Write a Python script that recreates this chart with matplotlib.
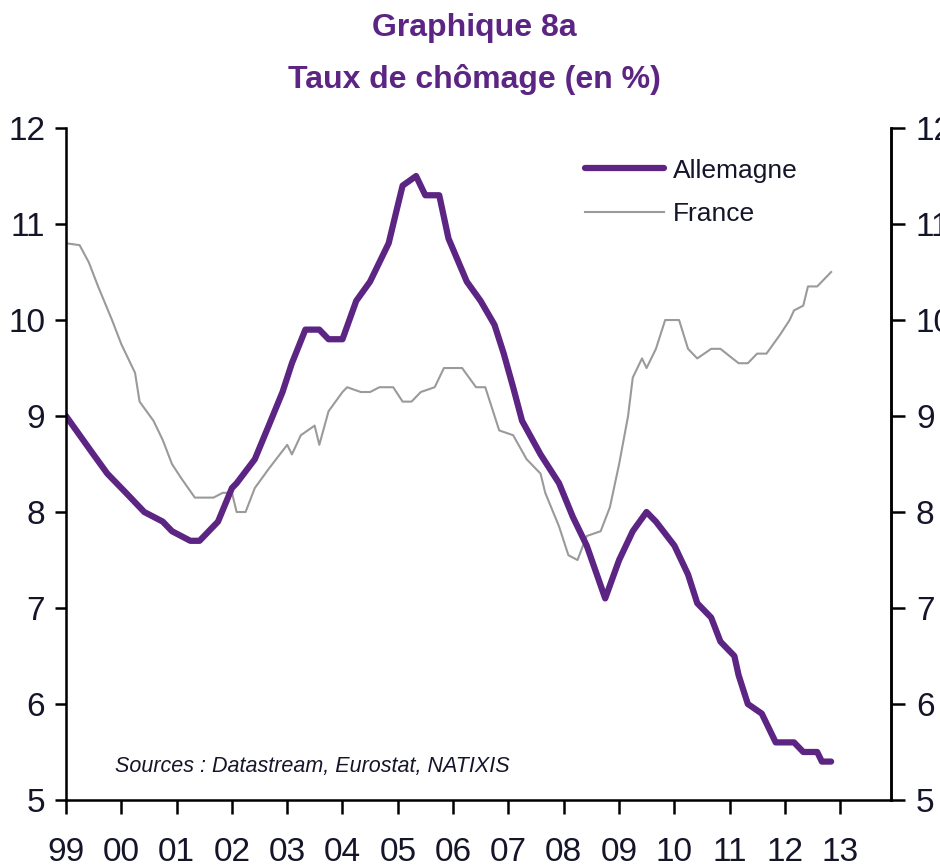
import matplotlib
matplotlib.use("Agg")
import matplotlib.pyplot as plt
import pandas as pd

# Allemagne (month, %)
de_months = ["1999-01", "1999-07", "1999-10", "2000-02", "2000-06", "2000-10", "2000-12",
             "2001-04", "2001-06", "2001-10", "2002-01", "2002-02", "2002-06", "2002-09",
             "2002-12", "2003-02", "2003-05", "2003-08", "2003-10", "2004-01", "2004-04",
             "2004-07", "2004-11", "2005-01", "2005-02", "2005-05", "2005-07", "2005-10",
             "2005-12", "2006-04", "2006-07", "2006-10", "2006-12", "2007-02", "2007-04",
             "2007-08", "2007-12", "2008-03", "2008-06", "2008-10", "2009-01", "2009-04",
             "2009-07", "2009-09", "2010-01", "2010-04", "2010-06", "2010-09", "2010-11",
             "2011-02", "2011-03", "2011-05", "2011-08", "2011-11", "2012-03", "2012-05",
             "2012-08", "2012-09", "2012-11"]
de_values = [9.0, 8.6, 8.4, 8.2, 8.0, 7.9, 7.8,
             7.7, 7.7, 7.9, 8.25, 8.3, 8.55, 8.9,
             9.25, 9.55, 9.9, 9.9, 9.8, 9.8, 10.2,
             10.4, 10.8, 11.2, 11.4, 11.5, 11.3, 11.3,
             10.85, 10.4, 10.2, 9.95, 9.65, 9.3, 8.95,
             8.6, 8.3, 7.95, 7.65, 7.1, 7.5, 7.8,
             8.0, 7.9, 7.65, 7.35, 7.05, 6.9, 6.65,
             6.5, 6.3, 6.0, 5.9, 5.6, 5.6, 5.5,
             5.5, 5.4, 5.4]

# France
fr_months = ["1999-01", "1999-04", "1999-06", "1999-08", "1999-11", "2000-01", "2000-04",
             "2000-05", "2000-08", "2000-10", "2000-12", "2001-02", "2001-05", "2001-09",
             "2001-11", "2002-01", "2002-02", "2002-04", "2002-06", "2002-09", "2003-01",
             "2003-02", "2003-04", "2003-07", "2003-08", "2003-10", "2004-01", "2004-02",
             "2004-05", "2004-07", "2004-09", "2004-12", "2005-02", "2005-04", "2005-06",
             "2005-09", "2005-11", "2006-03", "2006-06", "2006-08", "2006-11", "2007-02",
             "2007-05", "2007-08", "2007-09", "2007-12", "2008-02", "2008-04", "2008-06",
             "2008-09", "2008-11", "2009-01", "2009-03", "2009-04", "2009-06", "2009-07",
             "2009-08", "2009-09", "2009-11", "2010-02", "2010-04", "2010-06", "2010-09",
             "2010-11", "2011-03", "2011-05", "2011-07", "2011-09", "2011-12", "2012-02",
             "2012-03", "2012-05", "2012-06", "2012-08", "2012-11"]
fr_values = [10.8, 10.78, 10.6, 10.35, 10.0, 9.75, 9.45,
             9.15, 8.95, 8.75, 8.5, 8.35, 8.15, 8.15,
             8.2, 8.2, 8.0, 8.0, 8.25, 8.45, 8.7,
             8.6, 8.8, 8.9, 8.7, 9.05, 9.25, 9.3,
             9.25, 9.25, 9.3, 9.3, 9.15, 9.15, 9.25,
             9.3, 9.5, 9.5, 9.3, 9.3, 8.85, 8.8,
             8.55, 8.4, 8.2, 7.85, 7.55, 7.5, 7.75,
             7.8, 8.05, 8.5, 9.0, 9.4, 9.6, 9.5,
             9.6, 9.7, 10.0, 10.0, 9.7, 9.6, 9.7,
             9.7, 9.55, 9.55, 9.65, 9.65, 9.85, 10.0,
             10.1, 10.15, 10.35, 10.35, 10.5]

years = list(range(1999, 2014))
year_labels = [str(y)[2:] for y in years]
y_ticks = [5, 6, 7, 8, 9, 10, 11, 12]

purple = "#5c2483"
txt = "#15152a"
font = ["Liberation Sans", "DejaVu Sans"]

fig = plt.figure(figsize=(9.4, 8.67), dpi=100)
ax = fig.add_axes([0.0702, 0.0773, 0.8776, 0.775])

de_x = pd.to_datetime(de_months)
fr_x = pd.to_datetime(fr_months)
ax.plot(fr_x, fr_values, color="#9a9a9a", lw=1.5, label="France")
ax.plot(de_x, de_values, color=purple, lw=4.5, label="Allemagne",
        solid_capstyle="round")

ax.set_ylim(5, 12)
ax.set_xlim(pd.Timestamp("1999-01-01"), pd.Timestamp("2013-12-01"))
ax.set_xticks(pd.to_datetime([f"{y}-01-01" for y in years]))
ax.set_xticklabels(year_labels, family=font, fontsize=24, color=txt)
ax.set_yticks(y_ticks)
ax.set_yticklabels([str(v) for v in y_ticks], family=font, fontsize=24, color=txt)

for s in ["left", "bottom", "right"]:
    ax.spines[s].set_linewidth(1.8)
ax.spines["top"].set_visible(False)
ax.tick_params(axis="x", direction="out", length=10, width=1.8, pad=17)
ax.tick_params(axis="y", direction="out", length=8, width=1.8, pad=7)

ax2 = ax.twinx()
ax2.set_ylim(5, 12)
ax2.set_yticks(y_ticks)
ax2.set_yticklabels([str(v) for v in y_ticks], family=font, fontsize=24, color=txt)
ax2.spines["top"].set_visible(False)
ax2.spines["right"].set_linewidth(1.8)
ax2.tick_params(axis="y", direction="out", length=10, width=1.8, pad=8)

handles, labels = ax.get_legend_handles_labels()
leg = ax.legend(handles[::-1], labels[::-1], loc="upper left",
                bbox_to_anchor=(0.6, 0.99), frameon=False, handlelength=3.0,
                handletextpad=0.35, labelspacing=0.75,
                prop={"family": font, "size": 19})
for t in leg.get_texts():
    t.set_color(txt)

ax.text(0.06, 0.042, "Sources : Datastream, Eurostat, NATIXIS", transform=ax.transAxes,
        family=font, fontsize=15.5, style="italic", color=txt, va="baseline")

fig.text(0.505, 0.968, "Graphique 8a", ha="center", va="center",
         family=font, fontsize=23, fontweight="bold", color=purple)
fig.text(0.505, 0.908, "Taux de chômage (en %)", ha="center", va="center",
         family=font, fontsize=23, fontweight="bold", color=purple)

fig.savefig("out.png", dpi=100)
